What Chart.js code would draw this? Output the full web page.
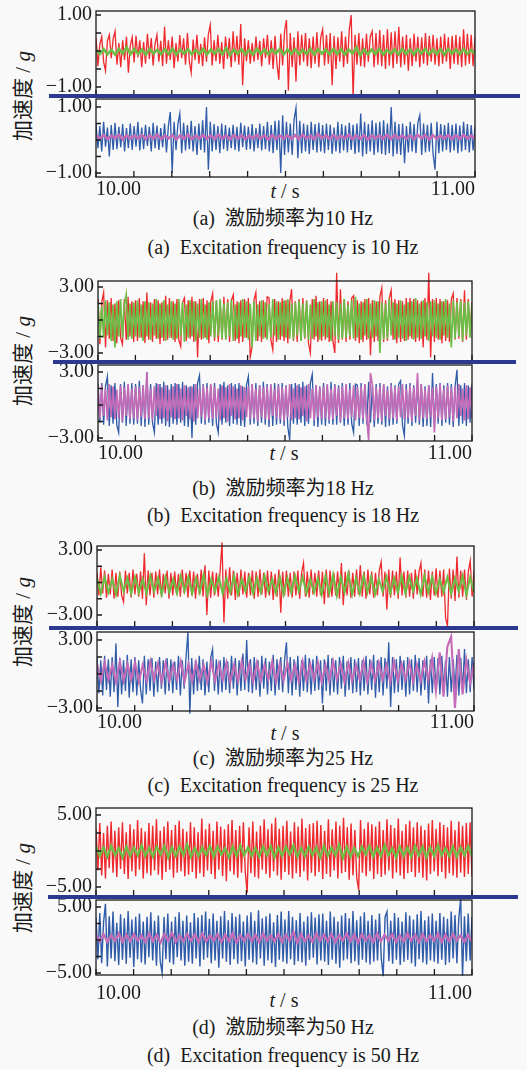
<!DOCTYPE html>
<html lang="zh">
<head>
<meta charset="UTF-8">
<title>加速度时程</title>
<script src="https://cdn.jsdelivr.net/npm/chart.js"></script>
<style>
  body { margin: 0; background: #fff; }
  #page { position: relative; width: 527px; height: 1070px; background: #f9f9f9; overflow: hidden;
          font-family: 'Liberation Serif', 'Noto Sans CJK SC', serif; color: #1a1a1a; }
  canvas { position: absolute; left: 0; }
  .sep { position: absolute; height: 4px; background: #2b3990; z-index: 5; }
  .txt { position: absolute; white-space: pre; transform: translate(-50%, -50%); line-height: 1; }
  .ylab { font-size: 21px; transform: translate(-50%, -50%) rotate(-90deg); }
  .cap, .xt { font-size: 20px; }
</style>
</head>
<body>
<div id="page">
  <div class="sep" style="top:94px;left:49px;width:471px"></div>
  <div class="sep" style="top:360px;left:53px;width:463px"></div>
  <div class="sep" style="top:626px;left:49px;width:469px"></div>
  <div class="sep" style="top:895px;left:48px;width:470px"></div>

  <div class="txt ylab" style="left:23px;top:96px">加速度 / <i>g</i></div>
  <div class="txt ylab" style="left:23px;top:361px">加速度 / <i>g</i></div>
  <div class="txt ylab" style="left:23px;top:622px">加速度 / <i>g</i></div>
  <div class="txt ylab" style="left:23px;top:888px">加速度 / <i>g</i></div>

  <div class="txt xt" style="left:285px;top:191px"><i>t</i> / s</div>
  <div class="txt xt" style="left:284px;top:453px"><i>t</i> / s</div>
  <div class="txt xt" style="left:285px;top:733px"><i>t</i> / s</div>
  <div class="txt xt" style="left:284px;top:1000px"><i>t</i> / s</div>

  <div class="txt cap" style="left:283px;top:218px">(a)  激励频率为10 Hz</div>
  <div class="txt cap" style="left:283px;top:247px">(a)  Excitation frequency is 10 Hz</div>
  <div class="txt cap" style="left:283px;top:488px">(b)  激励频率为18 Hz</div>
  <div class="txt cap" style="left:283px;top:515px">(b)  Excitation frequency is 18 Hz</div>
  <div class="txt cap" style="left:283px;top:758px">(c)  激励频率为25 Hz</div>
  <div class="txt cap" style="left:283px;top:785px">(c)  Excitation frequency is 25 Hz</div>
  <div class="txt cap" style="left:283px;top:1027px">(d)  激励频率为50 Hz</div>
  <div class="txt cap" style="left:283px;top:1055px">(d)  Excitation frequency is 50 Hz</div>
</div>
<script>
const RED = '#ee2a2e', GREEN = '#6cbd45', BLUE = '#2f5ba9', PINK = '#c36bb6';

// time ticks (s)
const xTickVals = [10, 10.1, 10.2, 10.3, 10.4, 10.5, 10.6, 10.7, 10.8, 10.9, 11];

// (a) 10 Hz
const redA = [
  .35,-.42,.18,.40,-.30,-.55,.28,.45,-.20,.33,.55,-.38,.22,-.45,.30,-.25,.40,-.60,.15,.38,
  -.32,.42,-.18,.30,-.45,.25,-.35,.48,-.22,.36,-.40,.20,.45,-.30,.28,-.42,.67,-.35,.30,-.25,
  .40,-.48,.22,-.30,.44,-.20,.35,-.38,.50,-.28,-.60,.32,-.25,.45,-.35,.20,-.42,.38,-.30,.46,
  .72,-.40,.30,-.28,.45,-.35,.25,-.50,.40,-.22,.36,-.45,.55,-.30,.42,-.38,.75,-.95,.35,-.28,
  .30,-.35,.22,-.30,.40,-.25,.28,-.42,.35,-.20,.45,-.38,.30,-.50,.42,-.35,-.80,.48,-.40,.55,
  .86,-1.10,.50,-.45,.38,-.85,.55,-.40,.45,-.30,.50,-.42,.35,-.48,.40,-.35,.52,-.45,.38,.60,
  -.40,.45,-.35,.50,-.95,.42,-.50,.38,-.30,.55,-.45,.40,-.35,.60,1.00,-1.30,.45,-.38,.50,-.42,
  .35,-.45,.48,-.30,.40,.55,-.45,.50,-.38,.58,-.42,.45,-.50,.60,-.40,.52,-.48,.55,-.35,.67,
  -.45,.40,-.38,.45,-.55,.35,-.42,.48,-.30,.40,-.45,.38,-.35,.50,-.40,.42,-.30,.45,-.38,.35,
  -.42,.40,-.35,.48,-.30,.38,-.50,.42,-.35,.45,-.38,.40,-.45,.60,-.40,.48,-.35,.45,-.42,.38];
const greenA = [
  .04,-.08,.05,-.09,.03,-.10,.06,-.07,.10,-.09,.05,-.08,.04,-.10,.06,-.07,.03,-.09,.05,-.08,
  .06,-.10,.04,-.07,.05,-.09,.03,-.08,.06,-.10,.04,-.07,.05,-.09,.08,-.12,.04,-.08,.05,-.09,
  .03,-.10,.06,-.08,.04,-.09,.05,-.07,.06,-.10,.04,-.08,.05,-.09,.03,-.08,.06,-.10,.05,-.07,
  .04,-.09,.06,-.08,.05,-.10,.04,-.07,.10,-.12,.05,-.09,.04,-.08,.06,-.10,.03,-.07,.05,-.09,
  .06,-.08,.04,-.10,.05,-.07,.06,-.09,.04,-.08,.05,-.10,.06,-.07,.04,-.09,.05,-.08,.03,-.09];
const blueA = [
  .50,-.25,.42,-.35,.55,-.20,.38,-.50,.45,-.30,.52,-.28,.40,-.22,.48,-.35,.36,-.25,.50,-.30,
  .42,-.20,.55,-.32,.38,-.28,.46,-.18,.40,-.35,.52,-.25,.44,-.30,.36,-.22,.50,-.38,.42,.85,
  -1.00,.55,-.30,.48,.80,-.40,.52,-.32,.45,-.28,.58,-.35,.42,-.45,.50,-.30,.60,-.38,1.00,-.90,
  .55,-.35,.48,-.30,.42,-.40,.50,-.28,.45,-.33,.38,-.25,.46,-.30,.40,-.35,.52,-.22,.44,-.30,
  .40,-.28,.48,-.35,.36,-.25,.50,-.32,.42,-.28,.55,-.35,.45,-.40,.58,-.30,.60,-1.00,.75,-.45,
  .55,-.38,.50,-.45,.62,.97,-.55,.58,-.40,.50,-.35,.46,-.42,.55,-.30,.48,-.38,.52,-.35,.45,
  -.40,.50,-.30,.46,-.42,.38,-.35,.55,-.40,.48,-.32,.44,-.38,.52,-.30,.46,-.42,.50,-.38,.80,
  -.50,.55,-.42,.48,-.35,.60,-.45,.52,-.38,.55,-.42,.60,-.45,.50,-.40,1.00,-.50,.55,-.42,.48,
  -.45,.50,-.70,.42,-.38,.55,-.35,.48,-.40,.52,.75,-.45,.50,-.38,.46,-.35,.52,-.42,-.90,.55,
  -.40,.48,-.35,.45,-.30,.52,-.38,.46,-.32,.50,-.40,.44,-.35,.55,-.30,.48,-.38,.45,-.32,.40];
const pinkA = [
  .14,.04,.15,.03,.13,.05,.16,.02,.14,.04,.13,.05,.15,.03,.14,.04,.16,.03,.13,.05,
  .15,.02,.14,.04,.16,.03,.13,.05,.15,.04,.14,.03,.16,.05,.13,.02,.15,.04,.14,.03,
  .13,.05,.16,.04,.14,.02,.15,.03,.13,.05,.14,.04,.15,.03,.16,.05,.13,.02,.18,.06,
  .14,.03,.15,.04,.13,.05,.16,.03,.14,.04,.15,.02,.13,.05,.14,.04,.16,.03,.15,.05,
  .13,.04,.14,.03,.16,.05,.15,.02,.14,.04,.13,.05,.15,.03,.14,.04,.16,.05,.13,.03];

// (b) 18 Hz
const redB = [
  1.9,-2.2,1.6,2.5,-2.5,1.8,-1.7,2.0,-1.9,1.5,-2.1,1.8,-1.6,-2.2,1.9,-1.8,2.1,-1.5,1.7,-2.0,
  1.8,-1.9,2.0,-1.6,1.7,-2.1,2.5,-1.8,1.6,-2.0,1.9,-1.7,1.8,-2.2,1.6,-1.9,2.2,-1.8,2.0,-1.6,
  1.7,-2.0,1.9,-1.8,-2.4,1.6,2.0,-1.9,1.8,-1.7,2.1,-2.0,1.7,-3.4,1.9,-1.8,2.0,-1.6,1.8,-2.1,
  1.7,2.4,-1.9,1.8,-2.0,1.6,-1.8,2.1,-1.7,1.9,-2.0,1.8,2.3,-1.9,1.7,-2.1,1.8,-2.0,1.9,-1.6,
  2.0,-3.4,-2.4,1.8,2.5,-1.9,1.7,-2.0,1.8,-1.6,2.1,2.0,-1.8,-2.7,1.9,-2.0,1.7,-1.8,2.0,-1.9,
  1.8,-2.1,1.6,2.8,-1.9,1.7,-2.0,1.9,-1.8,2.0,-1.7,1.8,-2.1,-3.0,1.9,-1.8,2.2,-2.0,1.7,-1.9,
  2.0,-1.8,1.9,-2.0,1.7,-1.9,-3.0,4.3,-2.1,2.8,-1.8,1.9,-2.0,1.7,-1.8,2.0,2.2,-1.9,1.8,-2.1,
  1.7,-2.0,1.9,-1.8,2.0,-3.2,1.8,-2.0,1.7,-1.9,2.1,2.9,-2.0,1.8,-1.9,2.0,2.7,-1.8,1.9,-2.1,
  1.8,-2.0,1.7,-1.9,2.0,-1.8,2.0,-1.7,1.9,-2.0,1.8,-1.9,1.7,-2.5,2.0,-1.8,4.3,-3.4,1.9,-2.0,
  2.0,-1.8,1.9,-2.1,1.7,-1.9,1.8,-2.0,1.9,2.4,-1.8,2.0,-1.7,1.9,-2.0,2.7,-1.8,1.9,-1.5,1.6];
const greenB = [
  1.5,-1.7,1.3,-1.6,1.8,-1.4,1.6,-1.9,1.4,-2.5,1.7,-1.5,1.9,-1.6,1.4,2.3,-1.8,1.5,-1.7,1.6,
  -1.5,1.8,-1.6,1.4,-1.9,1.7,-1.5,1.6,-1.8,1.5,-1.4,1.9,-1.7,1.5,-1.6,1.8,-1.9,1.4,-1.6,1.7,
  -1.8,1.5,-1.7,1.9,-1.5,1.6,-2.0,1.4,-1.6,1.8,-1.5,1.7,-1.9,1.5,-1.6,1.9,-1.7,1.4,-1.8,1.6,
  -1.5,1.7,-1.6,1.8,-1.4,1.9,-1.7,1.5,-1.8,1.6,-1.5,1.8,-1.9,1.4,-1.7,1.6,-1.5,1.9,-1.6,1.7,
  -1.8,1.5,-2.5,1.7,-1.9,1.4,-1.5,1.8,-1.7,1.6,-1.8,1.5,-1.6,1.9,-1.4,1.7,-1.8,1.6,-1.5,1.8,
  -1.6,1.9,-1.7,1.5,-1.8,1.6,-1.4,1.8,-1.9,1.5,-1.6,1.7,-1.8,1.4,-1.7,1.9,-1.5,1.6,-1.8,1.7,
  -1.5,1.8,-1.6,1.4,-1.9,1.7,-1.5,1.6,-1.8,1.5,-1.7,1.9,-1.6,1.4,-1.5,1.8,-1.7,2.1,-1.6,1.5,
  -1.8,1.6,-1.4,1.9,-1.7,1.5,-1.6,1.8,-1.5,1.7,-3.0,1.6,-1.8,1.5,-1.7,1.9,-1.4,1.6,-1.8,1.5,
  -1.6,1.8,-1.7,1.4,-1.9,1.6,-1.5,1.7,-1.8,2.0,-1.6,1.5,-1.7,1.8,-1.5,1.6,-1.9,1.7,-1.5,1.8,
  -1.6,1.5,-1.8,1.7,-1.4,1.9,-1.6,1.5,-2.5,1.8,-1.7,1.6,-1.5,1.8,-1.9,1.6,-1.4,1.7,-1.6,1.5];
const blueB = [
  1.9,-1.6,2.0,-1.8,1.7,2.6,-1.9,1.8,-1.7,2.0,-1.8,-2.5,1.9,-1.6,2.1,-1.9,1.8,-1.7,2.0,-1.8,
  1.9,-1.7,2.2,-1.9,1.8,-2.0,3.0,-1.8,1.9,-1.6,-2.5,2.0,-1.8,1.9,-1.7,2.1,-1.9,1.8,-2.0,1.9,
  -1.7,2.0,-1.8,1.9,-1.6,2.1,-1.9,1.8,-2.0,1.7,-3.0,1.9,-1.8,2.0,2.7,-1.7,1.9,-1.8,2.0,-1.6,
  1.8,-1.9,2.0,-1.7,-2.5,1.9,-1.8,2.1,-1.6,1.8,-1.9,2.0,-1.7,1.9,-1.8,2.0,-1.9,1.7,-2.0,1.8,
  2.6,-1.8,1.9,-1.7,2.0,-1.9,1.8,-1.6,2.1,-1.8,1.9,-2.0,1.7,-1.9,2.0,-1.8,1.9,-1.7,2.0,-1.9,
  1.8,-2.0,-3.2,1.9,-1.7,2.0,-1.8,1.9,-1.6,2.1,-1.9,1.8,-1.7,2.0,2.8,-1.9,1.8,-2.0,1.7,-1.8,
  2.0,-1.9,1.8,-1.7,2.1,-1.8,1.9,-1.8,1.8,-1.6,2.0,-1.9,1.7,-1.8,2.0,-1.7,-2.5,1.9,1.8,-1.9,
  2.0,-1.7,1.9,-1.8,2.1,-1.6,1.8,-2.0,1.9,-1.7,2.0,-1.8,1.9,-2.0,1.7,-1.9,2.0,-1.8,1.8,-1.7,
  1.9,2.2,-1.8,-2.8,1.9,-1.7,2.0,-1.9,1.8,-1.6,2.1,-1.8,1.9,-2.0,1.7,-1.9,1.8,-2.0,2.9,-1.8,
  1.9,-1.7,2.0,-1.9,1.8,-1.6,2.0,-1.8,1.9,-2.0,1.7,3.2,-1.9,1.8,-1.7,2.0,-1.9,1.8,-1.6,1.9];
const pinkB = [
  1.6,-1.2,1.8,-1.0,1.5,-1.4,1.9,-1.1,1.7,-1.3,1.4,-1.2,1.8,-1.5,1.6,-1.0,1.9,-1.3,1.5,-1.2,
  1.7,-1.4,1.6,-1.1,1.8,-1.3,3.0,-1.2,1.5,-1.4,1.7,-1.0,1.9,-1.3,1.6,-1.2,1.8,-1.5,1.4,-1.1,
  1.7,-1.3,1.9,-1.2,1.5,-1.4,1.8,-1.0,1.6,-1.3,1.7,-1.5,1.9,-1.2,1.5,-1.1,1.8,-1.4,1.6,-1.2,
  1.9,-1.3,1.7,-1.1,1.5,-1.4,1.8,-1.2,1.6,-1.5,1.9,-1.0,1.7,-1.3,1.5,-1.2,1.8,-1.4,1.6,-1.1,
  1.7,-1.3,1.9,-1.2,1.5,-1.5,1.8,-1.1,1.6,-1.3,1.7,-1.4,1.9,-1.0,1.5,-1.2,1.8,-1.3,1.6,-1.5,
  1.7,-1.1,1.9,-1.4,1.5,-1.2,1.8,-1.3,1.6,-1.0,1.7,-1.5,1.9,-1.2,1.5,-1.4,1.8,-1.1,1.6,-1.3,
  1.7,-1.2,1.9,-1.4,1.5,-1.3,1.8,-1.0,1.6,-1.5,1.7,-1.2,1.9,-1.3,1.5,-1.1,1.8,-1.4,1.6,-1.2,
  1.7,-1.3,1.9,-1.1,-3.2,2.9,1.8,-1.4,1.6,-1.2,1.7,-1.5,1.9,-1.0,1.5,-1.3,1.8,-1.2,1.6,-1.4,
  1.7,-1.1,1.9,-1.3,1.5,-1.2,1.8,-1.5,1.6,-1.0,2.9,-1.4,1.9,-1.2,1.5,-1.3,1.8,-1.1,1.6,-2.5,
  1.7,-1.2,1.9,-1.4,1.5,-1.3,1.8,-1.1,1.6,-1.5,1.7,-1.2,1.9,-1.0,1.5,-1.4,1.8,-1.3,1.6,-1.2];

// (c) 25 Hz
const redC = [
  0.9,-1.2,1.4,-1.0,1.1,-1.4,0.8,-1.1,1.2,-1.5,0.9,-1.3,1.0,-1.2,-1.8,1.1,-1.0,0.9,-1.4,1.2,
  -1.1,0.8,-1.3,1.0,-1.5,2.7,-2.1,1.1,-1.2,0.9,-1.4,1.0,-1.1,1.2,-1.3,0.8,-1.0,1.1,-1.5,0.9,
  -1.2,1.0,-1.1,0.8,-1.3,1.2,-1.0,0.9,-1.4,1.1,-1.2,1.0,-1.5,0.8,-1.1,1.2,-1.3,1.6,-3.0,1.1,
  -1.4,1.0,-1.2,0.9,-1.3,1.1,3.7,-3.7,1.2,-1.5,1.4,-1.2,1.1,-1.6,0.9,-1.3,1.2,-1.1,1.0,-1.4,
  0.9,-1.2,1.1,-1.5,1.0,-1.3,1.2,-1.1,0.9,-1.4,1.1,-1.2,1.0,-1.6,0.8,-1.3,1.2,-2.8,1.0,-1.2,
  1.1,-1.3,0.9,-1.4,1.0,-1.2,1.1,-1.5,0.9,1.8,-1.3,1.0,-1.4,1.2,-1.1,0.9,-1.3,1.1,-1.2,1.0,
  -2.0,1.2,-1.4,1.1,-1.3,0.9,-1.2,1.0,-1.5,1.8,-2.1,1.0,-1.2,1.1,-1.4,0.9,-1.3,1.2,-1.1,1.6,
  -1.3,1.0,-1.5,1.2,-1.1,1.0,-1.4,0.9,-1.2,1.1,1.9,-1.3,1.0,-2.5,1.2,-1.4,1.1,-1.2,1.0,-1.5,
  2.3,-1.2,1.0,-1.4,1.1,-1.3,0.9,-1.5,1.2,-1.1,1.0,1.8,-1.3,1.2,-1.4,1.1,-1.6,1.0,-1.2,1.3,
  -1.4,1.1,-1.3,1.2,-3.3,-4.0,1.3,-1.5,1.2,-1.7,2.4,-1.4,1.1,-1.3,1.2,-1.6,1.0,2.0,-1.3,1.1];
const greenC = [
  0.4,-1.0,0.5,-0.9,0.3,-1.1,0.6,-0.8,0.4,-1.0,0.5,-0.9,0.3,-1.0,0.6,-0.8,0.4,-1.1,0.5,-0.9,
  0.3,-1.0,0.6,-0.8,0.5,-1.0,0.4,-0.9,0.7,-1.1,0.3,-0.8,0.5,-1.0,0.4,-0.9,0.6,-1.1,0.3,-0.8,
  0.5,-1.0,0.4,-0.9,0.6,-0.8,0.3,-1.0,0.5,-1.1,0.4,-0.9,0.6,-0.8,0.5,-1.0,0.3,-0.9,0.4,-1.1,
  0.6,-1.0,0.7,-1.2,0.5,-0.9,0.8,-1.1,0.4,-1.0,0.6,-0.9,0.5,-1.1,0.3,-0.8,0.5,-1.0,0.4,-0.9,
  0.6,-1.0,0.5,-0.8,0.4,-1.1,0.6,-0.9,0.5,-1.0,0.3,-0.9,0.5,-1.0,0.4,-0.8,0.6,-1.1,0.5,-0.9];
const blueC = [
  1.4,-1.7,1.2,-1.9,1.6,-1.4,1.3,-2.0,1.5,-1.6,2.7,-2.9,1.4,-1.8,1.2,-1.5,1.7,-2.1,1.3,-1.6,
  1.5,-1.9,1.2,-1.4,-2.6,1.6,-1.8,1.3,-1.5,1.4,-2.0,1.1,-1.6,1.5,-1.3,1.2,-1.8,1.4,-1.5,1.3,
  -1.7,1.1,-1.4,1.6,-1.9,1.2,-1.3,1.5,3.7,-3.5,1.4,-1.8,1.2,-1.5,1.6,-1.4,1.3,-1.9,1.1,-1.6,
  1.4,2.2,-1.5,1.3,-1.8,1.2,-1.6,1.5,-1.4,1.1,-1.7,1.6,-1.3,1.4,-1.9,1.2,-1.5,1.8,-1.4,3.0,
  -1.6,1.3,-1.7,1.5,-1.4,1.2,-2.0,1.6,-1.3,1.4,-1.8,1.1,-1.5,1.7,-1.9,1.3,-1.4,1.5,-1.6,1.2,
  2.8,-1.7,1.5,-1.9,1.3,-1.4,1.6,-2.0,1.2,-1.5,1.7,-1.6,1.4,-1.8,1.3,-1.5,1.6,-1.4,1.2,-2.6,
  1.3,-1.5,1.7,-1.9,1.4,-1.6,1.2,-1.8,1.5,-1.3,1.6,-2.0,1.1,-1.4,1.5,-1.7,1.3,-1.6,1.4,-1.9,
  1.2,-1.5,1.6,-1.8,1.3,-1.4,1.7,-2.1,1.2,-1.6,1.5,-1.9,1.4,-1.3,2.8,-2.9,1.5,-1.7,1.3,-1.6,
  1.6,-1.4,1.2,-2.0,1.5,-1.8,1.3,-1.5,1.7,-1.6,1.4,-1.9,1.2,-1.4,1.6,-2.6,1.3,-1.7,1.5,-1.5,
  1.4,-1.8,1.6,-1.3,1.2,-2.0,1.5,-1.6,1.3,-1.4,1.7,-1.9,1.4,-1.5,2.2,-1.7,1.3,-1.6,1.5,-1.4];
const pinkC = [
  0.9,-0.6,1.0,-0.5,0.8,-0.7,1.1,-0.6,0.9,-0.5,1.0,-0.7,0.8,-0.6,1.1,-0.5,0.9,-0.7,1.0,-0.6,
  0.8,-0.5,1.1,-0.7,0.9,-0.6,1.0,-0.5,0.8,-0.7,1.1,-0.6,0.9,-0.5,1.0,-0.7,0.8,-0.6,1.1,-0.5,
  0.9,-0.7,1.0,-0.6,0.8,-0.5,1.1,-0.7,0.9,-0.6,1.0,-0.5,0.8,-0.7,1.1,-0.6,0.9,-0.5,1.0,-0.7,
  0.8,-0.6,1.1,-0.5,0.9,-0.7,1.0,-0.6,0.8,-0.5,1.1,-0.7,0.9,-0.6,1.0,-0.5,0.8,-0.7,1.1,-0.6,
  0.9,-0.5,1.0,-0.7,0.8,-0.6,1.1,-0.5,1.4,-1.5,1.9,-2.0,2.4,3.3,-3.0,2.2,-1.8,1.2,-0.8,1.0];

// (d) 50 Hz
const redD = [
  3.1,-2.7,3.9,-3.4,2.5,-3.8,3.5,-2.4,4.1,-3.0,2.8,-3.6,3.3,-2.5,4.0,-3.2,2.6,-3.9,3.7,-2.8,
  3.0,-3.5,4.3,-2.6,3.2,-3.8,2.7,-3.1,3.9,-3.4,3.5,-2.7,4.4,-3.3,2.8,-4.0,3.4,-2.9,4.1,-2.6,
  2.9,-3.7,3.6,-3.0,4.2,-2.8,3.1,-3.5,2.7,-3.3,4.0,-2.9,3.3,-3.8,2.6,-3.1,4.5,-3.6,3.0,-2.7,
  3.8,-3.2,2.8,-3.9,4.1,-2.6,3.4,-3.5,3.0,-4.2,3.7,-2.8,4.3,-3.3,2.9,-3.7,3.5,-3.0,4.0,-2.9,
  -5.8,3.3,-3.1,4.1,-3.6,2.7,-3.8,3.5,-2.6,4.4,-3.2,3.0,-3.7,3.8,-2.8,4.6,-3.4,3.1,-4.0,3.5,
  -2.9,4.2,-3.3,2.7,-3.8,4.0,-3.1,3.4,-3.6,4.5,-2.8,3.2,-4.1,3.7,-3.0,3.9,-3.5,4.2,-2.9,3.6,
  -3.9,2.8,-3.2,4.4,-3.6,3.0,-2.7,4.1,-3.8,3.5,-3.1,4.6,-2.9,3.3,-4.0,3.8,-3.4,2.9,-3.7,-5.4,
  4.3,-3.0,3.1,-3.5,4.0,-2.8,3.7,-3.9,3.4,-3.2,4.1,-3.6,2.9,-3.3,4.4,-2.7,3.6,-3.8,3.2,-3.0,
  4.5,-3.4,2.8,-3.9,3.7,-3.1,4.2,-2.9,3.3,-3.6,4.0,-3.0,3.5,-3.7,2.9,-4.1,3.8,-3.2,4.3,-2.8,
  3.1,-3.5,4.0,-2.9,3.6,-3.8,3.3,-3.1,4.2,-3.4,2.9,-3.7,4.1,-3.0,3.5,-3.6,3.9,-3.2,4.0,-3.5];
const greenD = [
  0.6,-0.7,0.5,-0.8,0.7,-0.6,0.4,-0.9,0.6,-0.7,0.5,-0.6,0.8,-0.7,0.4,-0.8,0.6,-0.5,0.7,-0.9,
  0.5,-0.7,0.6,-0.6,0.9,-0.8,0.4,-0.7,0.5,-0.6,0.7,-0.8,0.6,-0.5,0.4,-0.9,0.6,-0.7,0.8,-0.6,
  0.5,-0.7,0.4,-0.8,0.6,-0.6,0.7,-0.9,0.5,-0.7,0.6,-0.5,0.8,-0.8,0.4,-0.7,0.6,-0.6,0.5,-0.9,
  0.7,-0.7,0.5,-0.6,0.9,-1.0,0.6,-0.8,0.4,-0.7,0.6,-0.5,0.7,-0.8,0.5,-0.7,0.8,-0.6,0.4,-0.9,
  0.6,-0.7,0.5,-0.8,0.7,-0.6,0.6,-0.9,0.5,-0.7,0.8,-0.6,0.4,-0.7,0.6,-0.8,0.5,-0.6,0.7,-0.7];
const blueD = [
  3.4,-2.9,4.1,-3.5,2.7,5.5,-4.0,3.6,-2.8,4.3,-3.2,2.6,-3.8,3.9,-3.0,3.3,-3.6,4.4,-2.7,3.1,
  -4.1,3.5,-2.9,4.0,-3.4,2.8,-3.7,3.5,-2.6,4.2,-3.1,2.9,-3.9,3.7,-3.3,-5.0,3.5,-2.9,4.0,-3.4,
  2.8,-3.7,3.5,-2.6,4.2,-3.1,2.9,-3.9,3.7,-3.3,2.7,-3.6,4.1,-2.8,3.4,-4.0,3.8,-3.0,4.3,-2.7,
  3.2,-3.5,4.0,-3.1,2.9,-4.2,3.6,-2.8,4.4,-3.3,3.0,-3.8,4.1,-2.9,3.5,-3.6,3.9,-3.2,2.8,-4.0,
  3.7,-3.0,4.2,-3.4,2.9,-3.7,4.5,-2.8,3.3,-3.9,3.6,-3.1,4.0,-3.5,2.7,-4.1,3.8,-3.0,4.3,-3.3,
  3.1,-3.6,4.4,-2.9,3.5,-3.8,3.0,-3.2,4.1,-3.4,2.8,-3.9,3.6,-3.0,4.2,-2.7,3.4,-3.7,3.9,-3.1,
  4.0,-3.3,2.9,-3.8,4.3,-3.0,3.5,-3.6,2.8,-4.2,3.7,-3.1,4.1,-2.9,3.3,-3.5,4.4,-3.2,3.0,-3.8,
  3.6,-3.0,4.2,-3.4,2.9,-3.7,3.8,-3.3,3.1,-3.1,4.0,-2.8,-5.5,3.5,4.3,-3.2,2.9,-3.6,4.1,-3.0,
  3.4,-3.8,2.8,-3.3,4.2,-3.0,3.7,-3.5,3.1,-4.0,3.9,-2.9,4.4,-3.4,3.0,-3.7,3.6,-3.1,4.0,-3.3,
  2.9,-3.6,4.1,-3.0,3.5,-3.8,3.2,-3.4,4.3,-2.8,3.8,-3.5,3.3,6.3,-5.4,3.6,-3.2,4.0,-3.1,3.5];
const pinkD = [
  0.8,-0.2,0.9,-0.3,0.7,-0.1,1.0,-0.3,0.8,-0.2,0.9,-0.1,0.7,-0.3,1.0,-0.2,0.8,-0.4,0.9,-0.1,
  1.1,-0.3,0.7,-0.2,0.9,-0.1,0.8,-0.3,1.0,-0.2,0.7,-0.1,0.9,-0.3,0.8,-0.2,1.0,-0.4,0.7,-0.1,
  0.9,-0.2,0.8,-0.3,1.0,-0.1,0.7,-0.2,0.9,-0.3,0.8,-0.1,1.2,-0.4,0.9,-0.2,0.7,-0.3,1.0,-0.1,
  0.8,-0.2,0.9,-0.3,0.7,-0.1,1.0,-0.2,0.8,-0.4,0.9,-0.1,0.7,-0.3,1.0,-0.2,0.8,-0.1,0.9,-0.3,
  0.7,-0.2,1.0,-0.1,0.8,-0.3,0.9,-0.2,0.7,-0.1,1.0,-0.3,0.8,-0.2,0.9,-0.1,0.7,-0.3,0.8,-0.2];

// subplot placement in page pixels; labY = pixel rows of the +L / -L labels
const panels = [
  { top: 11,  bottom: 96,  left: 96, right: 475, labY: [15, 87],   L: 1, step: 0.5, series: [greenA, redA], colors: [GREEN, RED],  widths: [2.6, 1.3] },
  { top: 99,  bottom: 177, left: 96, right: 475, labY: [107, 173], L: 1, step: 0.5, series: [pinkA, blueA], colors: [PINK, BLUE],  widths: [2.6, 1.3], xPad: 1 },
  { top: 281, bottom: 361, left: 98, right: 472, labY: [287, 353], L: 3, step: 1.5, series: [greenB, redB], colors: [GREEN, RED],  widths: [1.7, 1.3] },
  { top: 365, bottom: 441, left: 98, right: 472, labY: [372, 438], L: 3, step: 1.5, series: [pinkB, blueB], colors: [PINK, BLUE],  widths: [1.7, 1.3], xPad: 1 },
  { top: 546, bottom: 627, left: 97, right: 474, labY: [550, 615], L: 3, step: 1.5, series: [greenC, redC], colors: [GREEN, RED],  widths: [2.1, 1.3] },
  { top: 632, bottom: 711, left: 97, right: 474, labY: [640, 708], L: 3, step: 1.5, series: [pinkC, blueC], colors: [PINK, BLUE],  widths: [2.1, 1.3], xPad: 0 },
  { top: 808, bottom: 896, left: 96, right: 472, labY: [815, 887], L: 5, step: 2.5, series: [greenD, redD], colors: [GREEN, RED],  widths: [2.3, 1.4] },
  { top: 900, bottom: 975, left: 96, right: 472, labY: [907, 973], L: 5, step: 2.5, series: [pinkD, blueD], colors: [PINK, BLUE],  widths: [2.3, 1.4], xPad: 7 }
];

Chart.defaults.font.family = "'Liberation Serif', 'Times New Roman', serif";
Chart.defaults.font.size = 20;
Chart.defaults.color = '#1a1a1a';

// box around the plot and short ticks pointing inwards
const framePlugin = {
  id: 'frame',
  afterDraw(chart) {
    const { ctx, chartArea: a, scales: { x, y } } = chart;
    ctx.save();
    ctx.strokeStyle = '#1a1a1a';
    ctx.lineWidth = 1.3;
    ctx.strokeRect(a.left, a.top, a.right - a.left, a.bottom - a.top);
    ctx.beginPath();
    x.ticks.forEach(t => {
      const px = x.getPixelForValue(t.value);
      ctx.moveTo(px, a.bottom); ctx.lineTo(px, a.bottom - 6);
    });
    y.ticks.forEach(t => {
      const py = y.getPixelForValue(t.value);
      ctx.moveTo(a.left, py); ctx.lineTo(a.left + 5, py);
    });
    ctx.stroke();
    ctx.restore();
  }
};

function toPoints(arr) {
  return arr.map((v, i) => ({ x: 10 + i / (arr.length - 1), y: v }));
}

const PAD = 22;
const page = document.getElementById('page');

panels.forEach(p => {
  const ppu = (p.labY[1] - p.labY[0]) / (2 * p.L);
  const yMax = p.L + (p.labY[0] - p.top) / ppu;
  const yMin = -p.L - (p.bottom - p.labY[1]) / ppu;
  const hasX = p.xPad !== undefined;
  const xH = hasX ? 34 : 0;
  const h = p.bottom - p.top + 2 * PAD + xH;

  const cv = document.createElement('canvas');
  cv.width = 527; cv.height = h;
  cv.style.top = (p.top - PAD) + 'px';
  cv.style.width = '527px'; cv.style.height = h + 'px';
  page.appendChild(cv);

  const yTicks = [];
  for (let v = -p.L; v <= p.L + 1e-9; v += p.step) yTicks.push(Math.round(v * 100) / 100);

  new Chart(cv, {
    type: 'line',
    data: {
      datasets: p.series.map((s, k) => ({
        data: toPoints(s),
        borderColor: p.colors[k],
        borderWidth: p.widths[k],
        pointRadius: 0,
        tension: 0,
        clip: { left: 0, right: 0, top: 14, bottom: 10 }
      }))
    },
    options: {
      responsive: false,
      animation: false,
      devicePixelRatio: 1,
      layout: { padding: { top: PAD, bottom: PAD, left: 0, right: 527 - p.right } },
      plugins: { legend: { display: false }, tooltip: { enabled: false } },
      scales: {
        x: {
          type: 'linear', min: 10, max: 11,
          grid: { display: false, drawTicks: false },
          border: { display: false },
          afterBuildTicks: s => { s.ticks = xTickVals.map(v => ({ value: v })); },
          afterFit: s => { s.height = xH; },
          ticks: {
            display: hasX, padding: p.xPad || 0, autoSkip: false, maxRotation: 0, align: 'inner',
            callback: v => (v === 10 || v === 11) ? v.toFixed(2) : ''
          }
        },
        y: {
          min: yMin, max: yMax,
          grid: { display: false, drawTicks: false },
          border: { display: false },
          afterBuildTicks: s => { s.ticks = yTicks.map(v => ({ value: v })); },
          afterFit: s => { s.width = p.left; s.paddingTop = 0; s.paddingBottom = 0; },
          ticks: {
            padding: 4, autoSkip: false,
            callback: v => Math.abs(Math.abs(v) - p.L) < 1e-6 ? (v < 0 ? '\u2212' : '') + p.L.toFixed(2) : ''
          }
        }
      }
    },
    plugins: [framePlugin]
  });
});
</script>
</body>
</html>
